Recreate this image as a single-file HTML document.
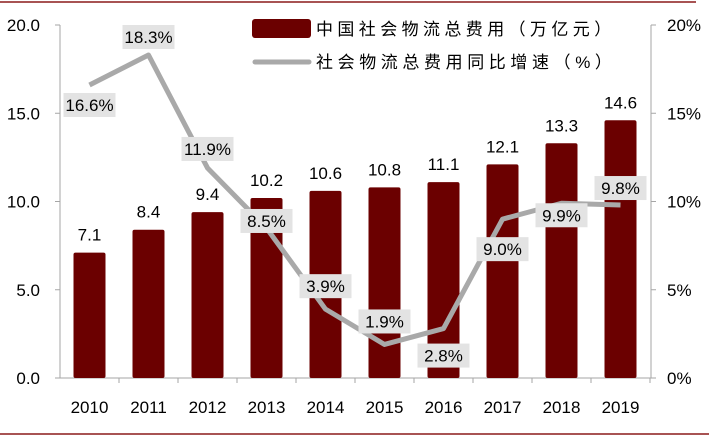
<!DOCTYPE html>
<html><head><meta charset="utf-8"><style>
body{margin:0;background:#fff}
svg{display:block;font-family:"Liberation Sans","Noto Sans CJK SC",sans-serif}
</style></head><body>
<svg width="709" height="437">
<line x1="0" y1="2" x2="696" y2="2" stroke="#8b1a1a" stroke-width="1.5"/>
<line x1="0" y1="434" x2="709" y2="434" stroke="#8b1a1a" stroke-width="1.5"/>
<g id="axes"></g><g id="bars"></g><g id="line"></g><g id="labels"></g>
<g>
<rect x="252" y="19" width="59" height="19" rx="3" fill="#6b0000"/>
<text x="316" y="35" font-size="17" letter-spacing="4.4" fill="#000">中国社会物流总费用（万亿元）</text>
<line x1="255" y1="62" x2="309" y2="62" stroke="#a9a9a9" stroke-width="5" stroke-linecap="round"/>
<text x="316" y="68" font-size="17" letter-spacing="4.6" fill="#000">社会物流总费用同比增速（%）</text>
</g>
</svg>
<script>
const years=["2010","2011","2012","2013","2014","2015","2016","2017","2018","2019"];
const costs=[7.1,8.4,9.4,10.2,10.6,10.8,11.1,12.1,13.3,14.6];
const growth=[16.6,18.3,11.9,8.5,3.9,1.9,2.8,9.0,9.9,9.8];
const leftTicks=[0,5,10,15,20];
const rightTicks=[0,5,10,15,20];
const labelOffsets=[20,-18,-19,-7,-23,-23,27,30,12,-17];
const NS="http://www.w3.org/2000/svg";
const x0=60,x1=651,y0=378,yTop=25,step=59;
const xc=i=>x0+step*(i+0.5);
const yL=v=>y0-(v/20)*(y0-yTop);
const yR=v=>y0-(v/20)*(y0-yTop);
function mk(tag,attrs,parent,txt){const e=document.createElementNS(NS,tag);for(const k in attrs)e.setAttribute(k,attrs[k]);if(txt!==undefined)e.textContent=txt;parent.appendChild(e);return e;}
const axes=document.getElementById('axes');
let e=mk('line',{x1:x0,y1:yTop,x2:x0,y2:y0,stroke:'#a6a6a6'},axes);

e=mk('line',{x1:x1,y1:yTop,x2:x1,y2:y0,stroke:'#a6a6a6'},axes);

e=mk('line',{x1:x0,y1:y0,x2:x1,y2:y0,stroke:'#a6a6a6'},axes);

leftTicks.forEach(v=>{const y=yL(v);
 mk('line',{x1:x0-5,y1:y,x2:x0,y2:y,stroke:'#a6a6a6'},axes);
 const t=mk('text',{x:40,y:y+6,'font-size':17,'text-anchor':'end'},axes,v.toFixed(1));
 });
rightTicks.forEach(v=>{const y=yR(v);
 mk('line',{x1:x1,y1:y,x2:x1+5,y2:y,stroke:'#a6a6a6'},axes);
 const t=mk('text',{x:667,y:y+6,'font-size':17},axes,v+'%');
 });
years.forEach((yr,i)=>{
 mk('line',{x1:x0+step*(i+1),y1:y0,x2:x0+step*(i+1),y2:y0+5,stroke:'#a6a6a6'},axes);
 const t=mk('text',{x:xc(i),y:413,'font-size':17,'text-anchor':'middle'},axes,yr);
 });
const bars=document.getElementById('bars');
costs.forEach((v,i)=>{
 const r=mk('rect',{x:xc(i)-16,y:yL(v),width:32,height:y0-yL(v),fill:'#6b0000',rx:2},bars);
 
 const t=mk('text',{x:xc(i),y:yL(v)-12,'font-size':17,'text-anchor':'middle'},bars,v.toFixed(1));
 });
const lg=document.getElementById('line');
const p=mk('polyline',{points:growth.map((v,i)=>xc(i)+','+yR(v)).join(' '),fill:'none',stroke:'#a9a9a9','stroke-width':5,'stroke-linejoin':'round'},lg);

const lb=document.getElementById('labels');
growth.forEach((v,i)=>{
 const cy=yR(v)+labelOffsets[i];
 const r=mk('rect',{x:xc(i)-26,y:cy-12,width:52,height:24,fill:'#e3e3e3'},lb);
 
 const t=mk('text',{x:xc(i),y:cy+6,'font-size':17,'text-anchor':'middle'},lb,v.toFixed(1)+'%');
 });
</script>
</body></html>
